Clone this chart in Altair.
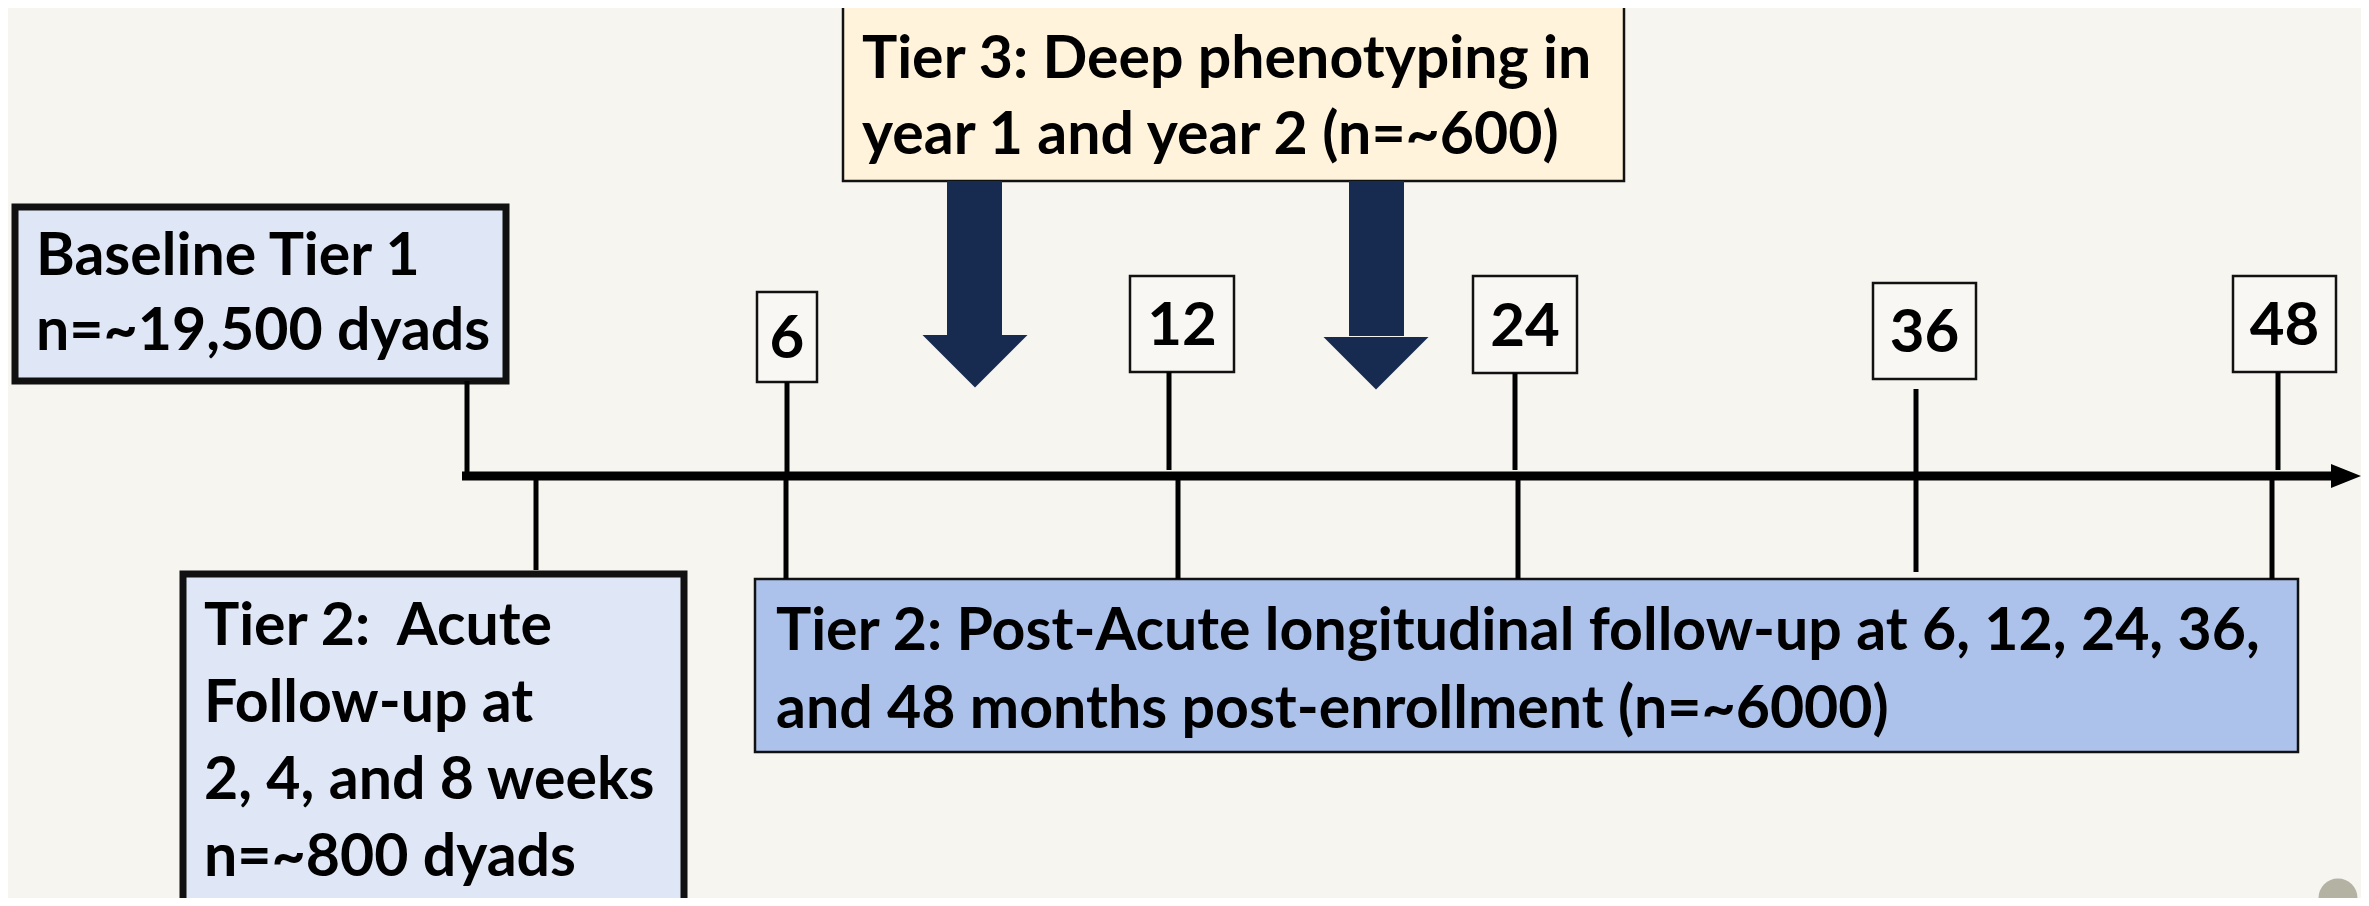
import altair as alt
import pandas as pd

# ---------------- text content ----------------
baseline_lines = ["Baseline Tier 1", "n=~19,500 dyads"]
tier3_lines = ["Tier 3: Deep phenotyping in", "year 1 and year 2 (n=~600)"]
acute_lines = ["Tier\u00a02:\u00a0 Acute", "Follow-up at", "2, 4, and 8 weeks", "n=~800 dyads"]
postacute_lines = ["Tier 2: Post-Acute longitudinal follow-up at 6, 12, 24, 36,",
                   "and 48 months post-enrollment (n=~6000)"]
months = ["6", "12", "24", "36", "48"]

# ---------------- layout (pixel space of the picture) ----------------
BG = "#f6f5f0"
NAVY = "#172a50"
FONT = "Lato"

# boxes: x1, x2, y1, y2, fill, stroke width
box_x1 = [15, 843, 183, 755]
box_x2 = [506, 1624, 684, 2298]
box_y1 = [207, 6, 574, 579]
box_y2 = [381, 181, 920, 752]
box_fill = ["#dfe6f5", "#fff3dc", "#dfe6f5", "#adc2ea"]
box_sw = [7, 2.5, 7, 2.5]

# month label boxes
mbox_x1 = [757, 1130, 1473, 1873, 2233]
mbox_x2 = [817, 1234, 1577, 1976, 2336]
mbox_y1 = [292, 276, 276, 283, 276]
mbox_y2 = [382, 372, 373, 379, 372]

# stems above the time line
stem_x = [787, 1169, 1515, 1916, 2278]
stem_y1 = [382, 372, 373, 389, 372]
stem_y2 = [476, 470, 470, 476, 470]

# ticks below the time line
tick_x = [536, 786, 1178, 1518, 1916, 2272]
tick_y1 = [480, 480, 480, 480, 480, 480]
tick_y2 = [570, 579, 579, 579, 572, 579]

LINE_Y = 476

xs = alt.Scale(domain=[8, 2361], nice=False, zero=False)
ys = alt.Scale(domain=[8, 898], nice=False, zero=False, reverse=True)


def X(f="x"):
    return alt.X(f"{f}:Q", scale=xs, axis=None)


def Y(f="y"):
    return alt.Y(f"{f}:Q", scale=ys, axis=None)


layers = []

# main boxes
boxes = pd.DataFrame({"x": box_x1, "x2": box_x2, "y": box_y1, "y2": box_y2,
                      "fill": box_fill, "sw": box_sw})
layers.append(
    alt.Chart(boxes).mark_rect(stroke="#111111").encode(
        x=X(), x2="x2", y=Y(), y2="y2",
        fill=alt.Fill("fill:N", scale=None),
        strokeWidth=alt.StrokeWidth("sw:Q", scale=None),
    )
)

# month boxes
mboxes = pd.DataFrame({"x": mbox_x1, "x2": mbox_x2, "y": mbox_y1, "y2": mbox_y2})
layers.append(
    alt.Chart(mboxes).mark_rect(stroke="#111111", strokeWidth=2.5, fill="#f8f7f3").encode(
        x=X(), x2="x2", y=Y(), y2="y2"
    )
)

# connector lines
rules = pd.DataFrame({
    "x": stem_x + tick_x + [467, 462],
    "x2": stem_x + tick_x + [467, 2336],
    "y": stem_y1 + tick_y1 + [381, LINE_Y],
    "y2": stem_y2 + tick_y2 + [480, LINE_Y],
    "sw": [5] * len(stem_x) + [5] * len(tick_x) + [5, 9],
})
layers.append(
    alt.Chart(rules).mark_rule(color="#000000", strokeCap="butt").encode(
        x=X(), x2="x2", y=Y(), y2="y2",
        strokeWidth=alt.StrokeWidth("sw:Q", scale=None),
    )
)

# time-line arrow head
head = pd.DataFrame({"x": [2346], "y": [LINE_Y]})
layers.append(
    alt.Chart(head).mark_point(filled=True, shape="M-1,-0.8L1,0L-1,0.8Z", size=900,
                               color="#000000", opacity=1, strokeWidth=0).encode(x=X(), y=Y())
)

# tier-3 arrows: shafts and heads
shafts = pd.DataFrame({"x": [947, 1349], "x2": [1002, 1404], "y": [181, 181], "y2": [336, 336]})
layers.append(
    alt.Chart(shafts).mark_rect(fill=NAVY).encode(x=X(), x2="x2", y=Y(), y2="y2")
)
heads = pd.DataFrame({"x": [975, 1376], "y": [335, 337]})
layers.append(
    alt.Chart(heads).mark_point(filled=True, shape="M-1,0L1,0L0,1Z", size=11025,
                                color=NAVY, opacity=1, strokeWidth=0).encode(x=X(), y=Y())
)

# decorative circle, bottom right
dots = pd.DataFrame({"x": [2338], "y": [898]})
layers.append(
    alt.Chart(dots).mark_point(filled=True, shape="circle", size=1520,
                               color="#b3b2a3", opacity=1, strokeWidth=0).encode(x=X(), y=Y())
)


def text_layer(lines, x, y0, dy, size, align="left"):
    df = pd.DataFrame({"t": lines, "x": [x] * len(lines),
                       "y": [y0 + i * dy for i in range(len(lines))]})
    return alt.Chart(df).mark_text(font=FONT, fontWeight="bold", fontSize=size,
                                   align=align, baseline="middle", color="#000000").encode(
        x=X(), y=Y(), text="t:N")


layers.append(text_layer(baseline_lines, 36, 257, 75, 59))
layers.append(text_layer(tier3_lines, 862, 60, 76, 59))
layers.append(text_layer(acute_lines, 204, 627, 77, 59))
layers.append(text_layer(postacute_lines, 776, 632, 78, 59))

mlab = pd.DataFrame({"t": months,
                     "x": [(a + b) / 2 for a, b in zip(mbox_x1, mbox_x2)],
                     "y": [(a + b) / 2 + 3 for a, b in zip(mbox_y1, mbox_y2)]})
layers.append(
    alt.Chart(mlab).mark_text(font=FONT, fontWeight="bold", fontSize=60, align="center",
                              baseline="middle", color="#000000").encode(x=X(), y=Y(), text="t:N")
)

chart = alt.layer(*layers).properties(
    width=2353, height=890, background=BG, padding=0, autosize="none"
).configure_view(stroke=None)

chart.save("out.html", embed_options={"renderer": "svg", "actions": False})
